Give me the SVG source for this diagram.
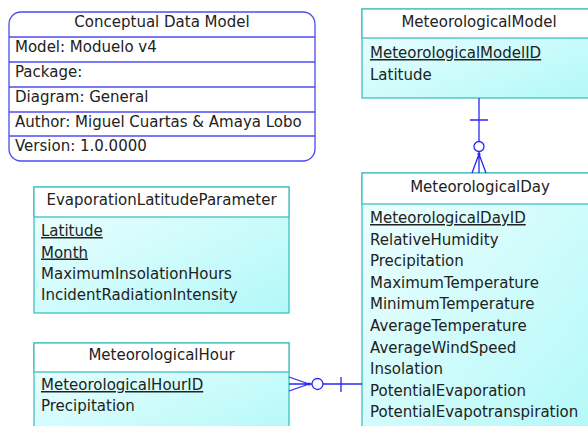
<svg xmlns="http://www.w3.org/2000/svg" width="588" height="426" viewBox="0 0 588 426">
<defs>
<linearGradient id="body" x1="0" y1="0" x2="1" y2="1">
<stop offset="0" stop-color="#f0ffff"/>
<stop offset="1" stop-color="#b2f8f8"/>
</linearGradient>
</defs>
<style>
text{font-family:"DejaVu Sans","Liberation Sans",sans-serif;font-size:15px;fill:#222222}
.c{text-anchor:middle}
.pk{text-decoration:underline}
.ent{fill:url(#body);stroke:#40c0c0;stroke-width:1.3}
.hdr{fill:#ffffff;stroke:#40c0c0;stroke-width:1.3}
.note{fill:#ffffff;stroke:#4c4cf2;stroke-width:1.3}
.sep{stroke:#4c4cf2;stroke-width:1.3}
.cn{stroke:#2828ee;stroke-width:1.3;fill:none}
.o{fill:#ffffff;stroke:#2828ee;stroke-width:1.3}
</style>
<rect width="588" height="426" fill="#ffffff"/>

<g id="cdm">
<rect class="note" x="9" y="12" width="306" height="149" rx="12" ry="12"/>
<line class="sep" x1="9" y1="37" x2="315" y2="37"/>
<line class="sep" x1="9" y1="62" x2="315" y2="62"/>
<line class="sep" x1="9" y1="87" x2="315" y2="87"/>
<line class="sep" x1="9" y1="112" x2="315" y2="112"/>
<line class="sep" x1="9" y1="136" x2="315" y2="136"/>
<text class="c" x="162" y="27">Conceptual Data Model</text>
<text x="15" y="52">Model: Moduelo v4</text>
<text x="15" y="77">Package:</text>
<text x="15" y="102">Diagram: General</text>
<text x="15" y="127">Author: Miguel Cuartas &amp; Amaya Lobo</text>
<text x="15" y="151">Version: 1.0.0000</text>
</g>

<g id="meteorologicalModel">
<rect class="ent" x="362" y="9" width="234" height="89"/>
<rect class="hdr" x="362" y="9" width="234" height="29"/>
<text class="c" x="479" y="27">MeteorologicalModel</text>
<text class="pk" x="370" y="58">MeteorologicalModelID</text>
<text x="370" y="79.5">Latitude</text>
</g>

<g id="meteorologicalDay">
<rect class="ent" x="362" y="173" width="234" height="270"/>
<rect class="hdr" x="362" y="173" width="234" height="31"/>
<text class="c" x="480" y="192">MeteorologicalDay</text>
<text class="pk" x="370" y="223">MeteorologicalDayID</text>
<text x="370" y="244.5">RelativeHumidity</text>
<text x="370" y="266">Precipitation</text>
<text x="370" y="287.5">MaximumTemperature</text>
<text x="370" y="309">MinimumTemperature</text>
<text x="370" y="331">AverageTemperature</text>
<text x="370" y="352.5">AverageWindSpeed</text>
<text x="370" y="374">Insolation</text>
<text x="370" y="395.5">PotentialEvaporation</text>
<text x="370" y="417">PotentialEvapotranspiration</text>
</g>

<g id="evaporationLatitudeParameter">
<rect class="ent" x="34" y="187" width="255" height="126"/>
<rect class="hdr" x="34" y="187" width="255" height="30"/>
<text class="c" x="161.5" y="204.5">EvaporationLatitudeParameter</text>
<text class="pk" x="41" y="236">Latitude</text>
<text class="pk" x="41" y="257.5">Month</text>
<text x="41" y="278.5">MaximumInsolationHours</text>
<text x="41" y="299.5">IncidentRadiationIntensity</text>
</g>

<g id="meteorologicalHour">
<rect class="ent" x="34" y="343" width="255" height="100"/>
<rect class="hdr" x="34" y="343" width="255" height="29"/>
<text class="c" x="161.5" y="359.5">MeteorologicalHour</text>
<text class="pk" x="41" y="390">MeteorologicalHourID</text>
<text x="41" y="411">Precipitation</text>
</g>

<g id="connectors">
<path class="cn" d="M479 98V173M470 120H488M479 154L472 173M479 154L486 173"/>
<circle class="o" cx="479" cy="146.5" r="5"/>
<circle cx="479" cy="154" r="1.6" fill="#2828ee"/>
<path class="cn" d="M289 384H362M341 377V392M309 384L289 377M309 384L289 391"/>
<circle class="o" cx="317.5" cy="384" r="5.5"/>
<circle cx="309" cy="384" r="1.6" fill="#2828ee"/>
</g>
</svg>
